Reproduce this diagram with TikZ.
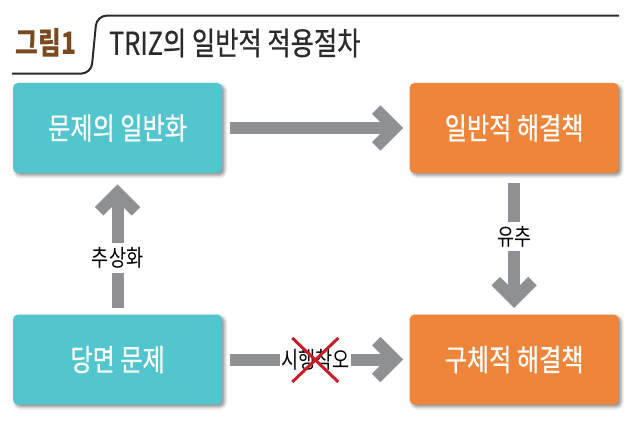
\documentclass[tikz,border=0pt]{standalone}
\usepackage{fontspec}
\newfontfamily\krfont[FakeStretch=0.8]{Noto Sans CJK KR}
\newfontfamily\krbox[FakeStretch=0.8,FakeBold=0.6]{Noto Sans CJK KR}
\usetikzlibrary{positioning,calc,shadows.blur,decorations.markings}
\definecolor{TrizTeal}{HTML}{53C5CE}
\definecolor{TrizOrange}{HTML}{EF853A}
\definecolor{TrizGray}{HTML}{8F9093}
\definecolor{TrizBrown}{HTML}{7A4A1F}
\definecolor{TrizRed}{HTML}{C81E2A}
\definecolor{TrizDark}{HTML}{2B2B2B}
\tikzset{
  stagebox/.style={rounded corners=1.2mm,minimum width=5.225cm,minimum height=2.25cm,align=center,text=white,font=\krbox\fontsize{21.5}{24}\selectfont,blur shadow={shadow xshift=0.6mm,shadow yshift=-0.6mm,shadow blur radius=0.8mm,shadow opacity=45}},
  bigarrow/.style={draw=TrizGray,line width=3mm,shorten <=2mm,shorten >=#1,postaction={decorate},
    decoration={markings,mark=at position -#1 with {\draw[TrizGray,line width=3mm,line join=miter,line cap=butt,shorten <=0pt,shorten >=0pt] (-4.6mm,4.6mm) -- (0,0) -- (-4.6mm,-4.6mm);}}},
  bigarrow/.default=3.7mm,
  steplabel/.style={fill=white,inner xsep=1pt,inner ysep=3pt,text=black,font=\krfont\fontsize{16.5}{18}\selectfont},
  crossmark/.style={draw=TrizRed,line width=0.75mm},
  headline/.style={draw=TrizDark,line width=0.5mm,rounded corners=2.5mm}
}
\begin{document}
\begin{tikzpicture}[node distance=3.525cm and 4.675cm]
\useasboundingbox (0,0) rectangle (16,-10.8);
% header
\draw[headline] (15.48,-0.39) -- (2.42,-0.39) -- (2.28,-1.84) -- (0.3,-1.84);
\node[anchor=west,inner sep=0pt,text=TrizBrown,font=\krfont\bfseries\fontsize{22}{24}\selectfont] (fignum) at (0.38,-1.075) {그림1};
\node[anchor=west,inner sep=0pt,text=TrizDark,font=\krbox\fontsize{22.5}{26}\selectfont] (figtitle) at (2.72,-1.075) {TRIZ의 일반적 적용절차};

% stages
\node[stagebox,fill=TrizTeal] (general) at (2.94,-3.2) {문제의 일반화};
\node[stagebox,fill=TrizOrange,right=of general] (gensol) {일반적 해결책};
\node[stagebox,fill=TrizTeal,below=of general] (problem) {당면 문제};
\node[stagebox,fill=TrizOrange,right=of problem] (specsol) {구체적 해결책};

% flows
\draw[bigarrow] (general.east) -- (gensol.west);
\draw[bigarrow] (problem.east) -- node[steplabel,pos=0.5] (trial) {시행착오} (specsol.west);
\draw[bigarrow=4.9mm,shorten <=1.5mm] (problem.north) -- node[steplabel,pos=0.4] (abstract) {추상화} (general.south);
\draw[bigarrow,shorten <=2.5mm] (gensol.south) -- node[steplabel,pos=0.45] (analogy) {유추} (specsol.north);

% crossed out trial and error
\draw[crossmark] ($(trial.center)+(-0.59cm,0.54cm)$) -- ($(trial.center)+(0.56cm,-0.56cm)$);
\draw[crossmark] ($(trial.center)+(0.56cm,0.54cm)$) -- ($(trial.center)+(-0.59cm,-0.56cm)$);
\end{tikzpicture}
\end{document}
